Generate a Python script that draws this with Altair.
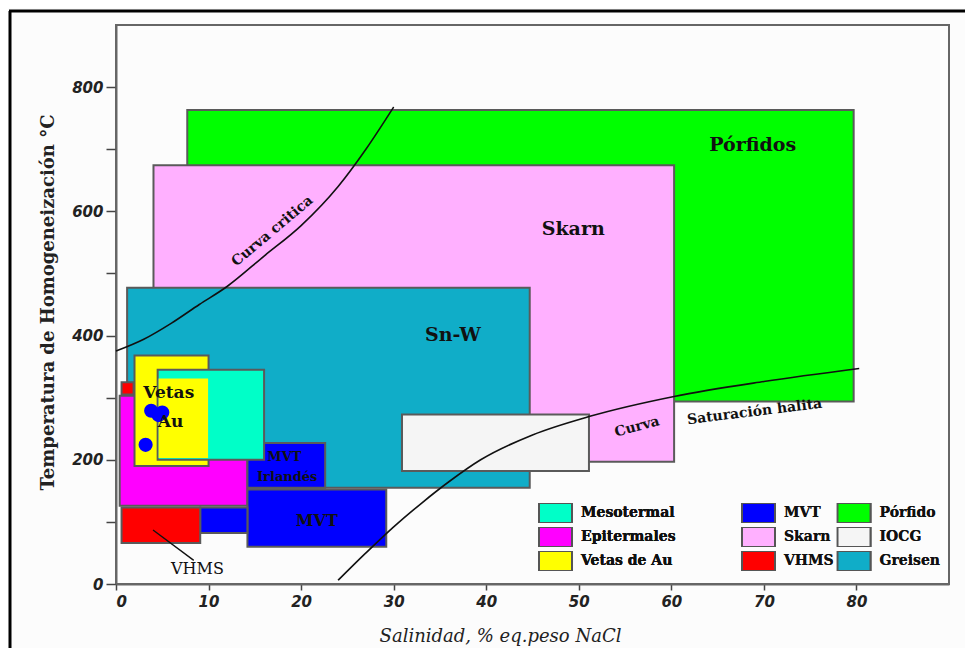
import altair as alt
import pandas as pd

# ---- rectangles (salinity %, temperature °C) in drawing order ----
rect_cat = ["Pórfido", "Skarn", "Greisen", "IOCG",
            "Epitermales",
            "VHMS", "MVT", "MVT", "MVT", "VHMS",
            "Vetas de Au", "Mesotermal",
            "Vetas de Au"]
rect_x1 = [7.7, 4.05, 1.2, 30.9, 0.4, 0.6, 14.2, 14.2, 9.1, 0.6, 2.0, 4.5, 4.6]
rect_x2 = [79.7, 60.3, 44.7, 51.1, 14.2, 1.9, 22.6, 29.2, 14.2, 9.1, 10.0, 16.0, 9.95]
rect_y1 = [294, 197, 155, 182, 126, 305, 155, 60, 82, 66, 190, 200, 203]
rect_y2 = [763, 674, 477, 273, 303, 325, 227, 152, 123, 123, 368, 345, 331]
rect_group = ["a", "a", "a", "a", "b", "c", "c", "c", "c", "c", "d", "d", "e"]

# legend categories
leg1_names = ["Mesotermal", "Epitermales", "Vetas de Au"]
leg1_colors = ["#00ffc8", "#ff00ff", "#ffff00"]
leg2_names = ["MVT", "Skarn", "VHMS", "Pórfido", "IOCG", "Greisen"]
leg2_colors = ["#0000ff", "#ffb0ff", "#ff0000", "#00ff00", "#f5f5f5", "#10adc8"]

# ---- curves ----
crit_x = [0, 3, 6, 9, 12, 16, 20, 24, 27, 30]
crit_y = [375, 394, 420, 450, 479, 528, 577, 640, 700, 768]
hal_x = [24, 27, 30, 33, 36, 39.4, 45, 51.2, 60.3, 70, 80.3]
hal_y = [6, 50, 92, 130, 165, 200, 240, 270, 302, 326, 347]
vhms_ptr_x = [4.0, 8.4]
vhms_ptr_y = [87, 38]

# ---- fluid inclusion blobs ----
dot_x = [3.8, 4.6, 5.0, 3.2]
dot_y = [279, 272, 276, 224]

# ---- labels ----
lab_text = ["Pórfidos", "Skarn", "Sn-W", "Vetas", "Au", "MVT", "Irlandés", "MVT",
            "Curva critica", "Curva", "Saturación halita"]
lab_x = [68.8, 49.4, 36.4, 5.7, 5.9, 18.2, 18.5, 21.7, 16.9, 56.3, 69.0]
lab_y = [707, 572, 401, 308, 261, 205, 173, 102, 568, 253, 277]
lab_size = [19, 19, 19, 17, 17, 13, 13, 16, 14, 14, 14]
lab_angle = [0, 0, 0, 0, 0, 0, 0, 0, 320, 345, 353]
vhms_lab = ["VHMS"]
vhms_lab_x = [8.8]
vhms_lab_y = [24]

rects = pd.DataFrame({"cat": rect_cat, "x1": rect_x1, "x2": rect_x2,
                      "y1": rect_y1, "y2": rect_y2, "g": rect_group})
crit = pd.DataFrame({"x": crit_x, "y": crit_y})
hal = pd.DataFrame({"x": hal_x, "y": hal_y})
ptr = pd.DataFrame({"x": vhms_ptr_x, "y": vhms_ptr_y})
dots = pd.DataFrame({"x": dot_x, "y": dot_y})
labs = pd.DataFrame({"t": lab_text, "x": lab_x, "y": lab_y, "s": lab_size, "a": lab_angle})
vl = pd.DataFrame({"t": vhms_lab, "x": vhms_lab_x, "y": vhms_lab_y})

SERIF = "DejaVu Serif"
xs = alt.Scale(domain=[0, 90], nice=False, zero=False)
ys = alt.Scale(domain=[0, 900], nice=False, zero=False)

X = alt.X("x1:Q", scale=xs, axis=alt.Axis(
    values=list(range(0, 81, 10)), title="Salinidad, % eq.peso NaCl",
    titleFont=SERIF, titleFontStyle="italic", titleFontWeight="normal", titleFontSize=18,
    titleX=384, titleY=52, titleBaseline="middle", titleAlign="center", titleColor="#222",
    labelFont="DejaVu Sans", labelFontStyle="italic", labelFontWeight="bold", labelFontSize=15,
    labelColor="#222", tickSize=6, tickColor="#444", tickWidth=1.5, labelPadding=4,
    domainColor="#666", domainWidth=2, grid=False))
Y = alt.Y("y1:Q", scale=ys, axis=alt.Axis(
    values=list(range(0, 801, 100)),
    labelExpr="datum.value % 200 == 0 ? datum.label : ''",
    title="Temperatura de Homogeneización  °C",
    titleFont=SERIF, titleFontWeight="bold", titleFontSize=18, titleColor="#222",
    titleX=-68, titleY=277, titleBaseline="middle", titleAlign="center", titleAngle=270,
    labelFont="DejaVu Sans", labelFontStyle="italic", labelFontWeight="bold", labelFontSize=15,
    labelColor="#222", tickSize=10, tickColor="#444", tickWidth=1.5, labelPadding=3,
    domainColor="#666", domainWidth=2, grid=False))

# swatch 33 x 20 px drawn to the right of the symbol centre (legend treats it as 20 px)
SYM = "M-1,-1H2.3V1H-1Z"
leg_common = dict(orient="none", title=None, symbolType=SYM, symbolSize=400,
                  symbolStrokeColor="#555", symbolStrokeWidth=2, symbolOpacity=1,
                  labelFont=SERIF, labelFontWeight="bold", labelFontSize=14,
                  labelColor="#111", labelOffset=21, rowPadding=4, padding=0,
                  clipHeight=20)

fill_enc = alt.Fill("cat:N", scale=alt.Scale(domain=leg1_names, range=leg1_colors),
                    legend=alt.Legend(legendX=422, legendY=478, columns=1, **leg_common))
color_enc = alt.Color("cat:N", scale=alt.Scale(domain=leg2_names, range=leg2_colors),
                      legend=alt.Legend(legendX=625, legendY=478, columns=2,
                                        columnPadding=2.5, **leg_common))

def rect_layer(g, enc, stroke=True):
    m = alt.Chart(rects).transform_filter(alt.datum.g == g)
    if stroke:
        mk = m.mark_rect(stroke="#5a5a5a", strokeWidth=2, opacity=1)
    else:
        mk = m.mark_rect(strokeWidth=0, opacity=1)
    kw = {"fill": enc} if enc is fill_enc else {"color": enc}
    return mk.encode(x=X, x2="x2:Q", y=Y, y2="y2:Q", **kw)

layers = [
    rect_layer("a", color_enc),
    rect_layer("b", fill_enc),
    rect_layer("c", color_enc),
    rect_layer("d", fill_enc),
    rect_layer("e", fill_enc, stroke=False),
    alt.Chart(crit).mark_line(color="#111", strokeWidth=1.6, interpolate="monotone").encode(
        x=alt.X("x:Q", scale=xs), y=alt.Y("y:Q", scale=ys)),
    alt.Chart(hal).mark_line(color="#111", strokeWidth=1.6, interpolate="monotone").encode(
        x=alt.X("x:Q", scale=xs), y=alt.Y("y:Q", scale=ys)),
    alt.Chart(ptr).mark_line(color="#111", strokeWidth=1.4).encode(
        x=alt.X("x:Q", scale=xs), y=alt.Y("y:Q", scale=ys)),
    alt.Chart(dots).mark_circle(color="#0000ff", opacity=1, size=200).encode(
        x=alt.X("x:Q", scale=xs), y=alt.Y("y:Q", scale=ys)),
    alt.Chart(labs).mark_text(font=SERIF, fontWeight="bold", color="#111",
                              baseline="middle", align="center").encode(
        x=alt.X("x:Q", scale=xs), y=alt.Y("y:Q", scale=ys), text="t:N",
        size=alt.Size("s:Q", scale=None), angle=alt.Angle("a:Q", scale=None)),
    alt.Chart(vl).mark_text(font=SERIF, fontSize=16, color="#111",
                            baseline="middle", align="center").encode(
        x=alt.X("x:Q", scale=xs), y=alt.Y("y:Q", scale=ys), text="t:N"),
    # outer figure frame (decorative)
    alt.Chart(vl).mark_rule(color="#000", strokeWidth=3).encode(
        x=alt.value(-106), y=alt.value(-14), y2=alt.value(650)),
    alt.Chart(vl).mark_rule(color="#000", strokeWidth=3).encode(
        x=alt.value(-107), x2=alt.value(870), y=alt.value(-14)),
]

chart = alt.layer(*layers).resolve_scale(fill="independent", color="independent").properties(
    width=833, height=559,
    autosize=alt.AutoSizeParams(type="none"),
    padding={"left": 108, "top": 17, "right": 16, "bottom": 64},
    background="#fcfcfc",
).configure_view(stroke="#666", strokeWidth=2)

chart.save("out.html", embed_options={"renderer": "svg", "actions": False})
